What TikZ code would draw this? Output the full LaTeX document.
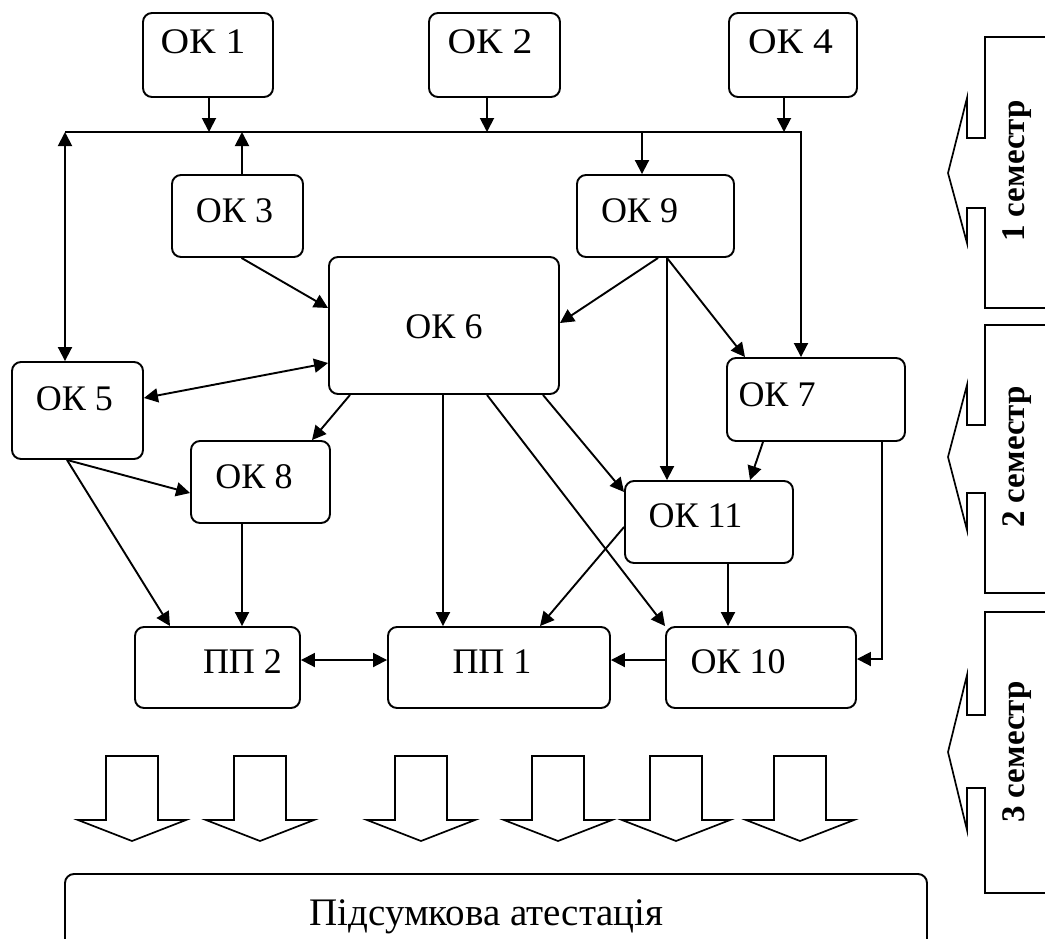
\documentclass[tikz,border=0pt]{standalone}
\usepackage{fontspec}
\usepackage{graphicx}
\setmainfont{Liberation Serif}
\usetikzlibrary{arrows.meta}

\newcommand{\boxfont}{\fontsize{36}{43}\selectfont}
\newcommand{\finalfont}{\fontsize{39}{46}\selectfont}
\newcommand{\semfont}{\fontsize{33}{40}\selectfont\bfseries}
\newcommand{\wide}[1]{\scalebox{1.1}[1]{#1}}

\tikzset{
  okbox/.style={draw, rounded corners=9pt, line width=1.9pt},
  txt/.style n args={3}{label={[xshift=#1,yshift=#2]center:#3}},
  arr/.style={line width=1.9pt, -{Triangle[length=14pt,width=14pt]}},
  darr/.style={line width=1.9pt, {Triangle[length=14pt,width=14pt]}-{Triangle[length=14pt,width=14pt]}},
  blockarrow/.style={draw, line width=1.7pt, fill=white},
  semtext/.style={rotate=90, font=\semfont}
}

\begin{document}
\begin{tikzpicture}[x=1pt, y=-1pt, font=\boxfont]
  \useasboundingbox (0,0) rectangle (1045,938);

  % Komponenten
  \node[okbox, minimum width=130pt, minimum height=84pt, txt={-5pt}{13.5pt}{\wide{ОК 1}}] (ok1) at (208,55) {};
  \node[okbox, minimum width=131pt, minimum height=84pt, txt={-4.5pt}{13.5pt}{\wide{ОК 2}}] (ok2) at (494.5,55) {};
  \node[okbox, minimum width=128pt, minimum height=84pt, txt={-2.5pt}{13.5pt}{\wide{ОК 4}}] (ok4) at (793,55) {};
  \node[okbox, minimum width=131pt, minimum height=82pt, txt={-3pt}{5.5pt}{ОК 3}] (ok3) at (237.5,216) {};
  \node[okbox, minimum width=157pt, minimum height=82pt, txt={-16pt}{5.5pt}{ОК 9}] (ok9) at (655.5,216) {};
  \node[okbox, minimum width=230pt, minimum height=137pt, txt={0pt}{-1.5pt}{ОК 6}] (ok6) at (444,325.5) {};
  \node[okbox, minimum width=131pt, minimum height=97pt, txt={-3pt}{11.5pt}{ОК 5}] (ok5) at (77.5,410.5) {};
  \node[okbox, minimum width=178pt, minimum height=83pt, txt={-39pt}{4.5pt}{ОК 7}] (ok7) at (816,399.5) {};
  \node[okbox, minimum width=139pt, minimum height=82pt, txt={-6.5pt}{5pt}{ОК 8}] (ok8) at (260.5,482) {};
  \node[okbox, minimum width=168pt, minimum height=82pt, txt={-13.5pt}{6pt}{ОК 11}] (ok11) at (709,522) {};
  \node[okbox, minimum width=165pt, minimum height=81pt, txt={25pt}{5.5pt}{ПП 2}] (pp2) at (217.5,667.5) {};
  \node[okbox, minimum width=222pt, minimum height=81pt, txt={-7pt}{5.5pt}{ПП 1}] (pp1) at (499,667.5) {};
  \node[okbox, minimum width=190pt, minimum height=81pt, txt={-23pt}{5.5pt}{ОК 10}] (ok10) at (761,667.5) {};
  \node[okbox, minimum width=862pt, minimum height=90pt,
        label={[xshift=-9.5pt,yshift=2pt,font=\finalfont]center:Підсумкова атестація}] (final) at (496,919) {};

  % Sammelleitung
  \coordinate (busL) at (65,132);
  \coordinate (busR) at (801,132);
  \coordinate (j1) at (209,132);
  \coordinate (j2) at (487,132);
  \coordinate (j3) at (242,132);
  \coordinate (j4) at (784,132);
  \coordinate (j9) at (642,132);
  \draw[arr] (busL) -- (busR) -- (busR |- ok7.north);
  \draw[arr] (ok1.south -| j1) -- (j1);
  \draw[arr] (ok2.south -| j2) -- (j2);
  \draw[arr] (ok4.south -| j4) -- (j4);
  \draw[arr] (ok3.north -| j3) -- (j3);
  \draw[arr] (j9) -- (j9 |- ok9.north);
  \draw[darr] (busL) -- (busL |- ok5.north);

  % Verbindungen
  \draw[arr] ([xshift=4pt]ok3.south) -- ([yshift=17.5pt]ok6.west);
  \draw[arr] ([xshift=2.5pt]ok9.south) -- ([yshift=2.5pt]ok6.east);
  \draw[arr] ([xshift=11.5pt]ok9.south) -- ([xshift=-42pt]ok11.north);
  \draw[arr] ([xshift=11.5pt]ok9.south) -- ([xshift=-71pt]ok7.north);
  \draw[darr] ([yshift=12.5pt]ok5.east) -- ([yshift=-37.5pt]ok6.west);
  \draw[arr] ([xshift=-94pt]ok6.south) -- ([xshift=51.5pt]ok8.north);
  \draw[arr] ([xshift=-1pt]ok6.south) -- ([xshift=-56pt]pp1.north);
  \draw[arr] ([xshift=43pt]ok6.south) -- (ok10.north west);
  \draw[arr] ([xshift=99pt]ok6.south) -- ([yshift=30pt]ok11.west);
  \draw[arr] ([xshift=-53pt]ok7.south) -- ([xshift=41pt]ok11.north);
  \draw[arr] ([xshift=66pt]ok7.south) |- ([yshift=8.5pt]ok10.east);
  \draw[arr] ([xshift=-10.5pt]ok5.south) -- ([yshift=-11pt]ok8.west);
  \draw[arr] ([xshift=-10.5pt]ok5.south) -- ([xshift=-47.5pt]pp2.north);
  \draw[arr] ([xshift=-18.5pt]ok8.south) -- ([xshift=24.5pt]pp2.north);
  \draw[arr] ([xshift=19pt]ok11.south) -- ([xshift=-33pt]ok10.north);
  \draw[arr] ([yshift=-5pt]ok11.west) -- ([xshift=41pt]pp1.north);
  \draw[darr] ([yshift=7.5pt]pp2.east) -- ([yshift=7.5pt]pp1.west);
  \draw[arr] ([yshift=7.5pt]ok10.west) -- ([yshift=7.5pt]pp1.east);

  % Blockpfeile
  \foreach \x in {132,260,421,558,676,800}
    \draw[blockarrow] (\x-26,756) -- (\x+26,756) -- (\x+26,820) -- (\x+54,820)
      -- (\x,841) -- (\x-54,820) -- (\x-26,820) -- cycle;

  % Semester
  \foreach \top/\nt/\ht/\tip/\hb/\nb/\bot in {37/138/98/173/243/208/308,
      325/425/385/457/530/493/593, 612/715/675/752/830/788/893}
    \draw[line width=1.7pt] (1050,\top) -- (985,\top) -- (985,\nt) -- (967,\nt)
      -- (967,\ht) -- (948,\tip) -- (967,\hb) -- (967,\nb) -- (985,\nb)
      -- (985,\bot) -- (1050,\bot);
  \node[semtext] (sem1) at (1017,171) {1 семестр};
  \node[semtext] (sem2) at (1017,457) {2 семестр};
  \node[semtext] (sem3) at (1017,752) {3 семестр};
\end{tikzpicture}
\end{document}
